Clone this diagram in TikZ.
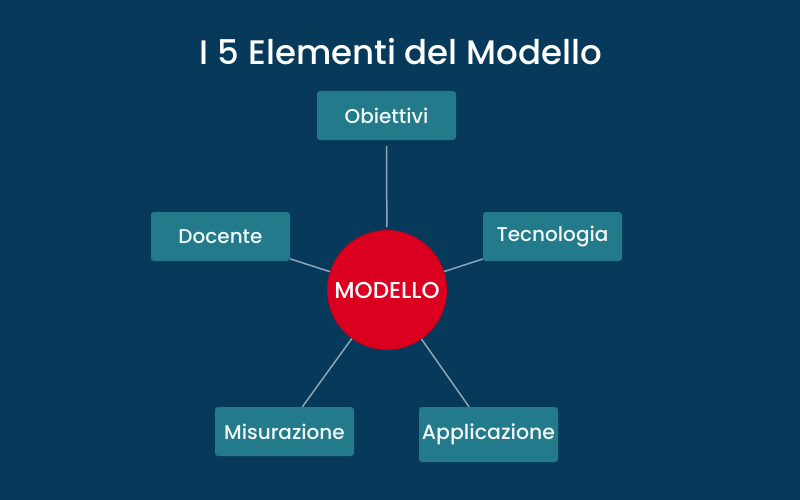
\documentclass[tikz,border=0pt]{standalone}
\usepackage{fontspec}
\setmainfont{Poppins}[UprightFont=* Medium]
\definecolor{bgcol}{HTML}{073A5A}
\definecolor{boxcol}{HTML}{237A8A}
\definecolor{redcol}{HTML}{DC0020}
\definecolor{redborder}{HTML}{C4001E}
\definecolor{linecol}{HTML}{8CA6B8}
\definecolor{txtcol}{HTML}{F2F8F8}
\begin{document}
\begin{tikzpicture}[x=1pt,y=-1pt,
  elem/.style={fill=boxcol, rounded corners=3pt, minimum width=139pt, minimum height=49pt,
    inner sep=0pt, text=txtcol, font=\fontsize{20}{22}\selectfont},
  hub/.style={circle, fill=redcol, draw=redborder, line width=1pt, minimum size=119pt,
    inner sep=0pt, text=white, font=\fontsize{23}{25}\selectfont},
  link/.style={draw=linecol, line width=1.5pt}]
\fill[bgcol] (0,0) rectangle (800,500);
\useasboundingbox (0,0) rectangle (800,500);
\node[anchor=base, text=white, font=\fontsize{34}{38}\selectfont] (title) at (401,65) {I 5 Elementi del Modello};
\node[hub] (hubn) at (387,290) {MODELLO};
\node[elem] (obj) at (386.5,115.5) {Obiettivi};
\node[elem] (doc) at (220.5,236.5) {Docente};
\node[elem] (tec) at (552.5,236.5) {Tecnologia};
\node[elem] (mis) at (284.5,431.5) {Misurazione};
\node[elem, minimum height=55pt, font=\fontsize{20.5}{22}\selectfont] (app) at (488.5,434.5) {Applicazione};
\draw[link, shorten <=6pt, shorten >=3pt] (obj) -- (hubn);
\draw[link] (doc) -- (hubn);
\draw[link] (tec) -- (hubn);
\draw[link] (mis) -- (hubn);
\draw[link] (app) -- (hubn);
\end{tikzpicture}
\end{document}
